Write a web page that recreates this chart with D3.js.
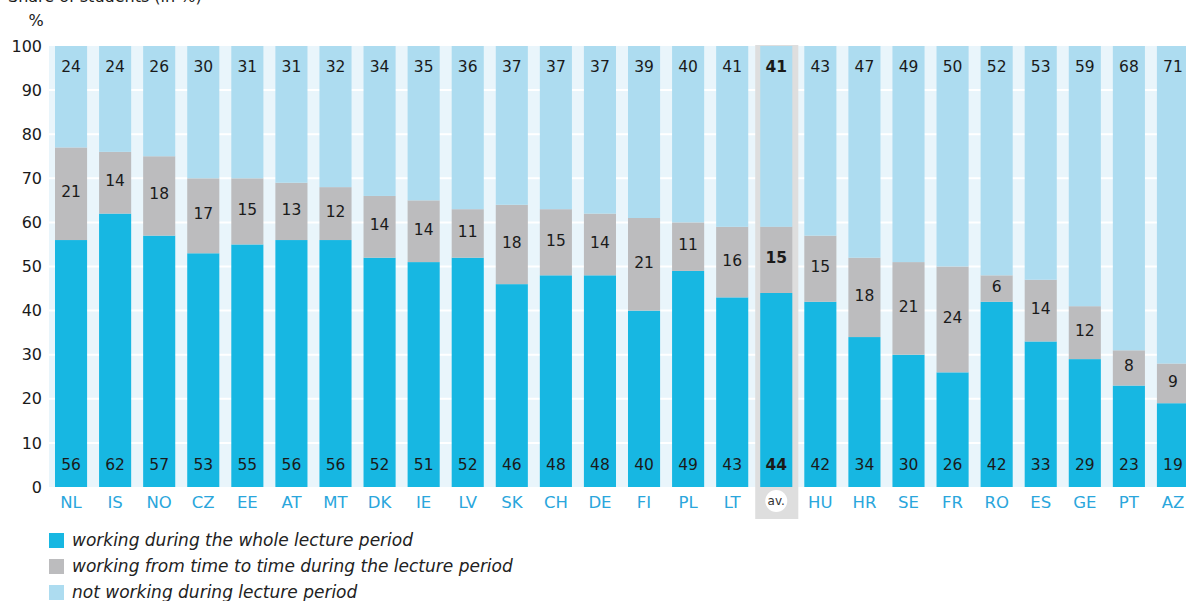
<!DOCTYPE html>
<html>
<head>
<meta charset="utf-8">
<script src="https://cdn.jsdelivr.net/npm/d3@7"></script>
<style>
  body { margin: 0; background: #fff; }
  svg { display: block; font-family: "DejaVu Sans", Verdana, sans-serif; }
</style>
</head>
<body>
<svg id="chart" width="1186" height="601"></svg>
<script>
const countries = ['NL', 'IS', 'NO', 'CZ', 'EE', 'AT', 'MT', 'DK', 'IE', 'LV', 'SK', 'CH', 'DE', 'FI', 'PL', 'LT', 'av.', 'HU', 'HR', 'SE', 'FR', 'RO', 'ES', 'GE', 'PT', 'AZ']
const wholePeriod = [56, 62, 57, 53, 55, 56, 56, 52, 51, 52, 46, 48, 48, 40, 49, 43, 44, 42, 34, 30, 26, 42, 33, 29, 23, 19]
const fromTimeToTime = [21, 14, 18, 17, 15, 13, 12, 14, 14, 11, 18, 15, 14, 21, 11, 16, 15, 15, 18, 21, 24, 6, 14, 12, 8, 9]
const notWorking = [24, 24, 26, 30, 31, 31, 32, 34, 35, 36, 37, 37, 37, 39, 40, 41, 41, 43, 47, 49, 50, 52, 53, 59, 68, 71]
const yTicks = [0, 10, 20, 30, 40, 50, 60, 70, 80, 90, 100]
const legendLabels = [
  'working during the whole lecture period',
  'working from time to time during the lecture period',
  'not working during lecture period'
]
const colors = ['#17b7e2', '#bcbcbe', '#addcf0']
const AVG = 'av.'

const svg = d3.select('#chart')

const x = d3.scaleBand()
  .domain(countries)
  .range([49, 1195])
  .paddingInner(0.272)
  .paddingOuter(0.136)

const y = d3.scaleLinear().domain([0, 100]).range([487, 46]).clamp(true)

// plot panel
svg.append('rect')
  .attr('x', 49).attr('y', y(100))
  .attr('width', 1186 - 49).attr('height', y(0) - y(100))
  .attr('fill', '#e9f5fb')

// grid lines
svg.append('g')
  .selectAll('line')
  .data(yTicks.slice(1, -1))
  .join('line')
  .attr('x1', 49).attr('x2', 1186)
  .attr('y1', d => y(d)).attr('y2', d => y(d))
  .attr('stroke', '#fff')
  .attr('stroke-width', 2)

// highlight for the average column
const avX = x(AVG)
svg.append('rect')
  .attr('x', avX - 5).attr('y', y(100) - 1)
  .attr('width', x.bandwidth() + 11).attr('height', 519 - y(100) + 1)
  .attr('fill', '#dedede')

// stacked data
const rows = countries.map((c, i) => ({
  country: c,
  values: [wholePeriod[i], fromTimeToTime[i], notWorking[i]]
}))

const bars = svg.append('g')
rows.forEach(row => {
  const a = row.values[0]
  const b = row.values[0] + row.values[1]
  const segs = [[0, a], [a, b], [b, 100]]
  segs.forEach((s, k) => {
    bars.append('rect')
      .attr('x', x(row.country))
      .attr('y', y(s[1]))
      .attr('width', x.bandwidth())
      .attr('height', y(s[0]) - y(s[1]))
      .attr('fill', colors[k])
  })

  const cx = x(row.country) + x.bandwidth() / 2
  const bold = row.country === AVG ? 'bold' : 'normal'
  const labelPos = [y(0) - 22, (y(a) + y(b)) / 2 - 2, y(100) + 21]
  labelPos.forEach((py, k) => {
    bars.append('text')
      .attr('x', cx)
      .attr('y', py)
      .attr('dy', '0.35em')
      .attr('text-anchor', 'middle')
      .attr('font-size', 15.5)
      .attr('font-weight', bold)
      .attr('fill', '#1a1a1a')
      .text(row.values[k])
  })
})

// y axis labels
svg.append('g')
  .selectAll('text')
  .data(yTicks)
  .join('text')
  .attr('x', 42)
  .attr('y', d => y(d))
  .attr('dy', '0.35em')
  .attr('text-anchor', 'end')
  .attr('font-size', 16)
  .attr('fill', '#1a1a1a')
  .text(d => d)

svg.append('text')
  .attr('x', 36).attr('y', 20)
  .attr('dy', '0.35em')
  .attr('text-anchor', 'middle')
  .attr('font-size', 16)
  .attr('fill', '#1a1a1a')
  .text('%')

// title sits partly above the frame, as in the source
svg.append('text')
  .attr('x', 8).attr('y', 2)
  .attr('font-size', 16)
  .attr('fill', '#1a1a1a')
  .text('Share of students (in %)')

// country labels
const xl = svg.append('g')
countries.forEach(c => {
  const cx = x(c) + x.bandwidth() / 2
  if (c === AVG) {
    xl.append('circle').attr('cx', cx).attr('cy', 501).attr('r', 11).attr('fill', '#fff')
    xl.append('text')
      .attr('x', cx).attr('y', 501).attr('dy', '0.35em')
      .attr('text-anchor', 'middle')
      .attr('font-size', 12)
      .attr('fill', '#333')
      .text(c)
  } else {
    xl.append('text')
      .attr('x', cx).attr('y', 502).attr('dy', '0.35em')
      .attr('text-anchor', 'middle')
      .attr('font-size', 16.5)
      .attr('fill', '#2aa6dc')
      .text(c)
  }
})

// legend
const legend = svg.append('g')
legendLabels.forEach((label, i) => {
  const ly = 540 + i * 26
  legend.append('rect')
    .attr('x', 49).attr('y', ly - 7)
    .attr('width', 15).attr('height', 15)
    .attr('fill', colors[i])
  legend.append('text')
    .attr('x', 72).attr('y', ly)
    .attr('dy', '0.35em')
    .attr('font-size', 17)
    .attr('font-style', 'italic')
    .attr('fill', '#222')
    .text(label)
})
</script>
</body>
</html>
